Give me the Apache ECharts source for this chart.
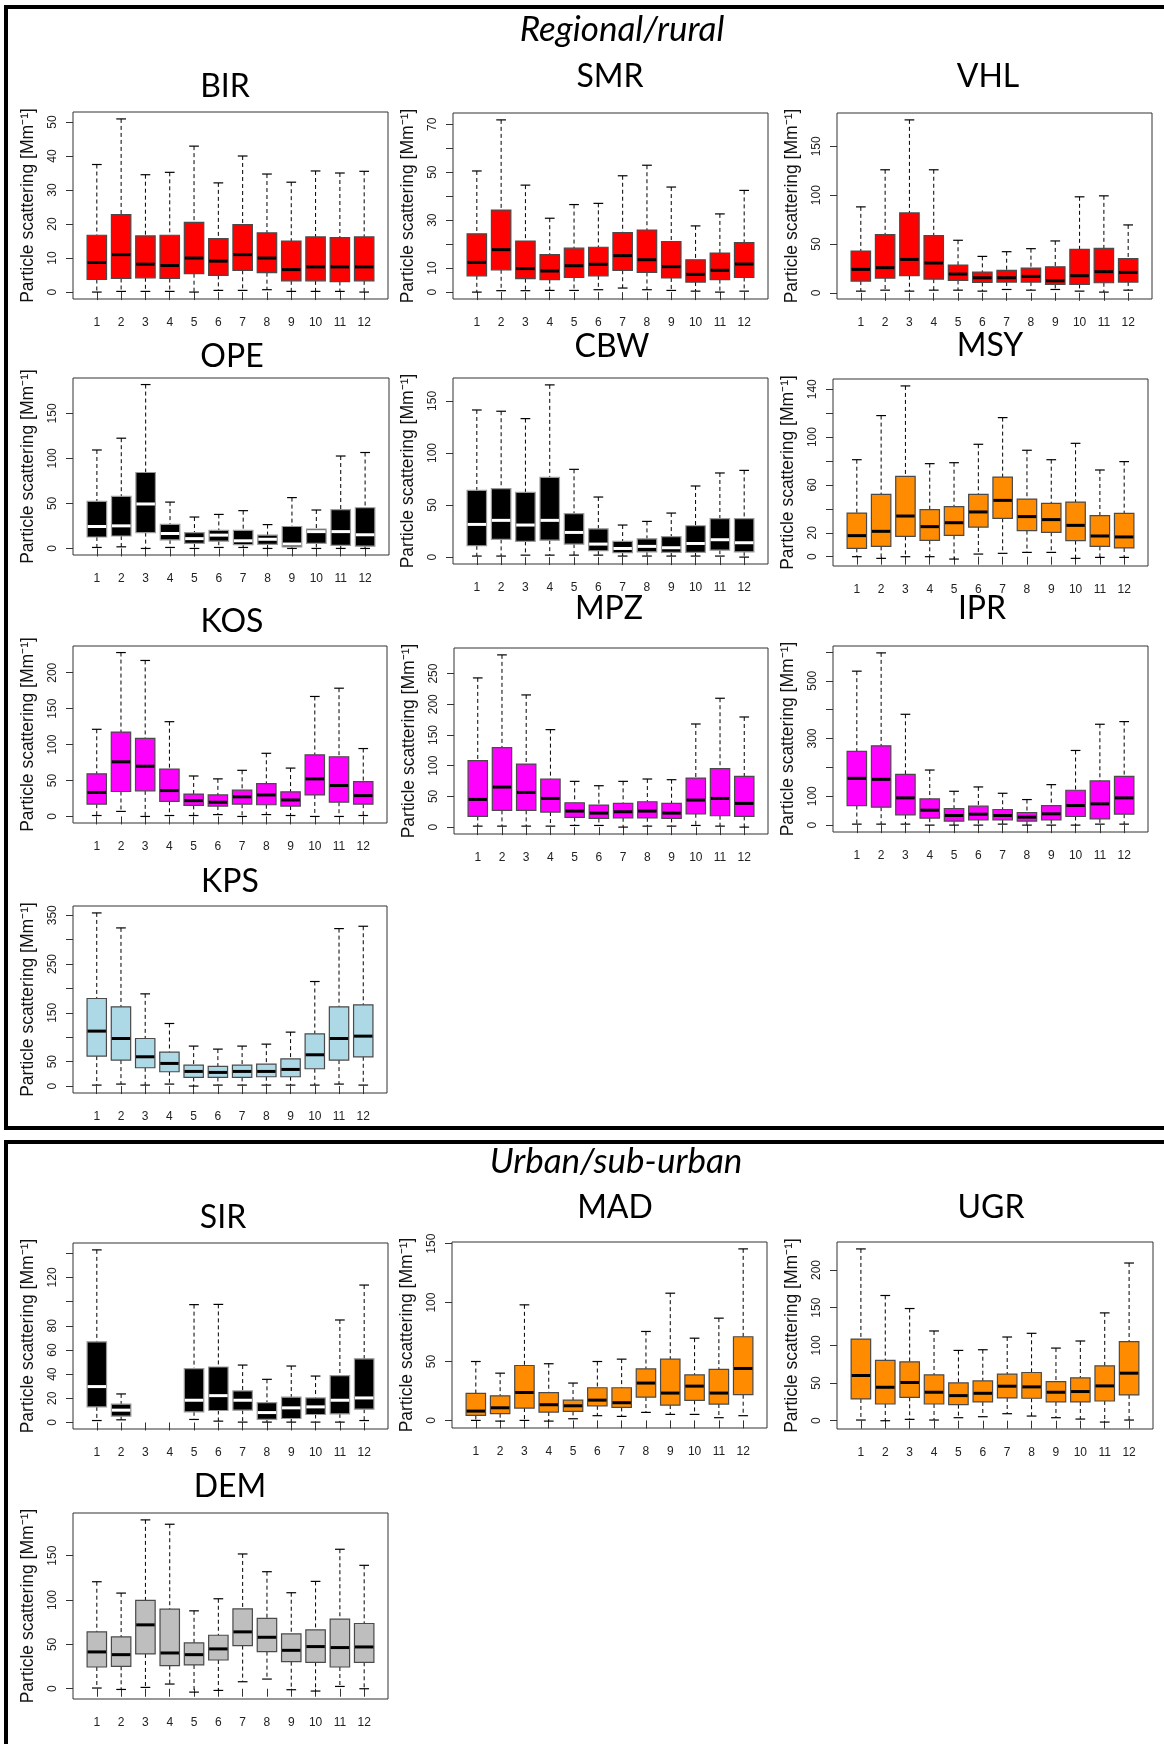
<!DOCTYPE html>
<html><head><meta charset="utf-8">
<script src="https://cdn.jsdelivr.net/npm/echarts@6/dist/echarts.min.js"></script>
<style>html,body{margin:0;padding:0;background:#fff}#c{width:1164px;height:1744px}</style>
</head><body><div id="c"></div>
<script>
// Month categories
const months = [1,2,3,4,5,6,7,8,9,10,11,12];
// Each entry: [lower whisker, Q1, median, Q3, upper whisker] in Mm-1
const BIR = [[0,3.7,8.7,16.7,37.5],[0.2,4.0,11.0,22.8,50.9],[0.2,4.2,8.2,16.5,34.5],[0.2,4.0,7.8,16.7,35.2],[0,5.4,10.0,20.5,42.9],[0.5,4.9,9.1,15.7,32.1],[0.5,6.4,11.0,19.8,40.0],[0.7,5.7,10.0,17.4,34.7],[0.2,3.3,6.6,15.0,32.3],[0.2,3.3,7.4,16.2,35.6],[0.2,3.1,7.4,16.0,35.0],[0,3.3,7.4,16.2,35.5]];
const SMR = [[0,6.8,12.4,24.3,50.5],[0.6,9.3,17.7,34.2,71.8],[0.6,5.6,9.8,21.3,44.6],[0.7,5.2,8.8,15.6,30.8],[0.7,6.1,11.0,18.3,36.5],[1.0,6.8,11.6,18.7,37.0],[1.7,9.1,15.2,24.8,48.5],[1.0,8.2,13.5,25.9,52.9],[0.7,5.9,10.6,21.1,43.8],[0.4,4.2,7.4,13.5,27.6],[0,5.2,9.1,16.3,32.6],[0.4,6.1,11.7,20.6,42.4]];
const VHL = [[1.7,12.0,24.0,42.8,88.0],[2.7,15.1,25.7,59.6,126.0],[1.7,17.5,34.2,81.8,177.1],[2.7,14.0,30.5,58.6,126.0],[2.7,12.7,19.2,28.4,53.8],[1.7,10.6,15.4,21.2,37.3],[3.4,11.0,15.4,22.9,42.1],[2.7,11.0,16.8,25.3,45.2],[3.4,8.6,12.3,26.7,53.1],[1.7,8.6,17.5,44.5,98.3],[0.7,10.3,21.6,45.5,99.3],[2.7,11.0,20.9,34.9,69.5]];
const OPE = [[1.1,12.7,24.4,52.2,109.4],[1.8,13.8,25.1,57.9,122.5],[0,17.6,49.4,84.4,182.1],[1.1,9.5,16.6,26.8,51.5],[0,5.6,10.9,17.6,34.9],[1.1,8.1,14.8,20.1,37.8],[1.1,4.2,8.5,20.1,42.0],[0,4.6,10.2,14.8,26.5],[0,1.8,4.9,24.4,56.5],[0,5.6,18.7,21.5,42.7],[0,3.5,18.7,43.1,102.7],[0,2.5,15.2,45.2,106.6]];
const CBW = [[1.0,10.9,31.4,64.1,141.3],[1.0,17.0,35.3,65.7,140.1],[1.9,15.1,30.8,62.2,133.0],[1.9,16.3,35.3,76.6,165.4],[1.9,12.5,23.7,41.7,84.3],[1.9,6.1,12.5,27.2,57.7],[1.0,4.2,8.3,15.1,30.8],[1.0,5.1,10.3,17.6,34.3],[1.0,4.5,9.0,19.6,42.3],[1.0,4.5,13.1,30.1,68.3],[1.0,6.7,16.7,36.9,80.8],[0,5.1,13.8,36.9,83.3]];
const MSY = [[0,7.0,17.6,36.5,81.1],[-1.4,8.6,21.2,52.1,118.0],[0,17.0,34.0,67.2,142.8],[0,13.7,25.1,39.3,77.8],[-2.0,17.8,28.4,41.8,78.6],[2.2,24.8,37.4,52.1,94.0],[2.8,32.1,47.1,66.6,116.3],[3.6,21.8,33.5,48.2,89.0],[3.6,20.4,31.0,44.6,81.1],[-1.4,13.4,26.2,45.7,94.8],[-0.6,8.6,17.3,34.3,72.5],[-0.6,7.3,16.5,36.3,79.5]];
const KOS = [[1.3,17.1,33.4,59.3,121.3],[7.0,34.7,76.0,117.4,228.1],[0,35.6,69.9,108.6,217.1],[1.3,21.1,36.0,65.9,131.9],[1.3,15.4,22.0,31.2,56.3],[2.6,14.5,19.8,29.9,52.3],[0,17.1,27.3,36.5,64.2],[2.6,16.3,29.9,45.7,87.9],[1.3,14.5,22.9,34.3,67.3],[0,29.9,52.3,85.7,167.0],[0,19.8,43.1,83.1,178.5],[1.3,17.1,29.0,48.4,94.5]];
const MPZ = [[1.6,17.4,45.1,108.2,242.9],[1.6,27.2,65.2,129.3,280.4],[1.6,27.2,56.5,102.7,215.2],[1.6,24.5,46.7,78.3,158.7],[2.7,15.8,26.1,39.7,74.5],[2.7,14.1,22.8,35.9,67.4],[0,15.2,25.0,38.6,74.5],[1.6,15.2,26.1,41.3,78.3],[1.6,14.1,22.8,38.6,77.2],[2.7,21.7,44.0,79.9,167.9],[1.6,18.5,46.7,95.1,209.8],[0,17.4,38.6,82.6,179.3]];
const IPR = [[3.4,67.8,162.1,255.2,533.3],[3.4,62.1,158.6,274.7,596.6],[3.4,35.6,94.3,175.9,383.9],[0,24.1,51.7,90.8,190.8],[0,13.8,33.3,57.5,117.2],[0,18.4,37.9,65.5,132.2],[3.4,18.4,33.3,54.0,110.3],[0,13.8,27.6,43.7,88.5],[0,18.4,39.1,67.8,140.2],[0,29.9,67.8,120.7,258.6],[3.4,21.8,73.6,152.9,349.4],[3.4,37.9,94.3,169.0,358.6]];
const KPS = [[2.0,61.4,112.6,179.4,354.7],[4.1,53.2,97.5,162.3,324.0],[2.0,37.5,60.0,97.5,188.9],[4.1,29.3,46.4,69.6,128.2],[0,17.7,30.0,43.0,81.9],[2.0,17.7,28.0,40.2,75.7],[2.0,17.7,30.0,43.0,81.9],[2.0,19.1,30.0,45.0,85.9],[2.0,19.1,34.1,55.9,110.5],[2.0,35.5,64.1,107.1,214.2],[4.1,53.2,97.5,162.3,322.6],[2.0,60.0,102.3,166.4,327.4]];
const SIR = [[1.6,12.9,29.7,66.7,142.8],[2.2,5.2,10.2,15.1,23.6],null,null,[2.5,8.8,18.4,44.5,97.5],[1.1,9.9,22.2,45.9,97.7],[0.3,10.2,18.4,26.1,47.5],[0.3,2.5,8.2,16.5,35.7],[0.3,3.3,12.1,20.9,46.7],[0.3,6.6,12.9,20.3,38.4],[0.3,7.1,18.4,38.7,84.8],[1.6,11.0,20.3,52.7,113.7]];
const MAD = [[0,4.2,7.9,22.9,50.0],[-0.6,5.7,10.7,20.9,40.1],[0,10.5,23.7,46.6,98.1],[-0.6,7.1,13.3,23.5,48.1],[1.4,7.6,12.4,17.2,31.7],[4.0,12.4,17.2,27.7,50.0],[3.4,11.0,15.0,27.7,52.0],[6.8,19.8,31.7,43.8,75.5],[5.1,13.0,23.2,52.0,108.0],[5.1,17.0,29.1,38.7,69.8],[2.3,13.9,23.2,43.3,86.8],[4.0,21.8,44.1,71.0,145.6]];
const UGR = [[0.9,28.9,60.0,108.4,228.0],[0,22.2,44.4,80.0,166.2],[1.8,31.1,50.7,78.2,148.9],[0.9,22.2,37.8,60.9,119.1],[4.0,21.3,33.3,50.2,93.3],[5.3,24.9,36.4,52.9,94.2],[9.3,30.2,45.8,61.8,111.1],[6.2,29.8,44.9,64.0,116.0],[4.0,24.9,37.8,52.0,96.4],[2.2,24.9,38.7,56.9,105.8],[-1.8,26.2,46.2,72.9,143.1],[0.9,34.2,63.1,104.9,209.3]];
const DEM = [[0.8,24.5,41.5,64.1,120.6],[-0.8,25.3,38.4,58.4,107.8],[1.5,39.2,72.0,99.5,190.3],[5.3,26.0,40.3,89.7,185.4],[-3.8,26.8,38.4,51.6,87.8],[-1.9,32.4,44.9,60.3,101.4],[7.9,48.6,64.1,90.1,151.9],[10.9,41.8,58.0,79.2,131.9],[-1.1,30.5,43.3,61.8,108.2],[-2.6,29.8,47.5,66.3,121.0],[2.6,24.5,46.4,78.4,157.2],[0,29.8,47.1,73.5,139.1]];

// y tick values and labelled ticks per station
const BIR_ticks = [0,10,20,30,40,50], BIR_labels = [0,10,20,30,40,50];
const SMR_ticks = [0,10,20,30,40,50,60,70], SMR_labels = [0,10,30,50,70];
const VHL_ticks = [0,50,100,150], VHL_labels = [0,50,100,150];
const OPE_ticks = [0,50,100,150], OPE_labels = [0,50,100,150];
const CBW_ticks = [0,50,100,150], CBW_labels = [0,50,100,150];
const MSY_ticks = [0,20,40,60,80,100,120,140], MSY_labels = [0,20,60,100,140];
const KOS_ticks = [0,50,100,150,200], KOS_labels = [0,50,100,150,200];
const MPZ_ticks = [0,50,100,150,200,250], MPZ_labels = [0,50,100,150,200,250];
const IPR_ticks = [0,100,200,300,400,500,600], IPR_labels = [0,100,300,500];
const KPS_ticks = [0,50,100,150,200,250,300,350], KPS_labels = [0,50,150,250,350];
const SIR_ticks = [0,20,40,60,80,100,120,140], SIR_labels = [0,20,40,60,80,120];
const MAD_ticks = [0,50,100,150], MAD_labels = [0,50,100,150];
const UGR_ticks = [0,50,100,150,200], UGR_labels = [0,50,100,150,200];
const DEM_ticks = [0,50,100,150], DEM_labels = [0,50,100,150];

const RED='#FF0000', BLACK='#000000', ORANGE='#FF8C00', MAGENTA='#FF00FF', LBLUE='#ADD8E6', GREY='#BEBEBE';

const panels = [
  {name:'BIR', data:BIR, ticks:BIR_ticks, labels:BIR_labels, fill:RED,     box:[73,112,388,299], title:[225,87]},
  {name:'SMR', data:SMR, ticks:SMR_ticks, labels:SMR_labels, fill:RED,     box:[453,113,768,299], title:[610,77]},
  {name:'VHL', data:VHL, ticks:VHL_ticks, labels:VHL_labels, fill:RED,     box:[837,113,1152,299], title:[988,77]},
  {name:'OPE', data:OPE, ticks:OPE_ticks, labels:OPE_labels, fill:BLACK,   box:[73,378,389,555], title:[232,357]},
  {name:'CBW', data:CBW, ticks:CBW_ticks, labels:CBW_labels, fill:BLACK,   box:[453,378,768,564], title:[612,347]},
  {name:'MSY', data:MSY, ticks:MSY_ticks, labels:MSY_labels, fill:ORANGE,  box:[833,379,1148,566], title:[990,346]},
  {name:'KOS', data:KOS, ticks:KOS_ticks, labels:KOS_labels, fill:MAGENTA, box:[73,646,387,823], title:[232,622]},
  {name:'MPZ', data:MPZ, ticks:MPZ_ticks, labels:MPZ_labels, fill:MAGENTA, box:[454,648,768,834], title:[609,609]},
  {name:'IPR', data:IPR, ticks:IPR_ticks, labels:IPR_labels, fill:MAGENTA, box:[833,646,1148,832], title:[982,609]},
  {name:'KPS', data:KPS, ticks:KPS_ticks, labels:KPS_labels, fill:LBLUE,   box:[73,906,387,1093], title:[230,882]},
  {name:'SIR', data:SIR, ticks:SIR_ticks, labels:SIR_labels, fill:BLACK,   box:[73,1243,388,1429], title:[223,1218]},
  {name:'MAD', data:MAD, ticks:MAD_ticks, labels:MAD_labels, fill:ORANGE,  box:[452,1242,767,1428], title:[615,1208]},
  {name:'UGR', data:UGR, ticks:UGR_ticks, labels:UGR_labels, fill:ORANGE,  box:[837,1242,1153,1429], title:[991,1208]},
  {name:'DEM', data:DEM, ticks:DEM_ticks, labels:DEM_labels, fill:GREY,    box:[73,1513,388,1699], title:[230,1487]}
];

const TICK_FONT = 'Liberation Sans';
const TITLE_FONT = 'Lato';

function makeRender(fill){
  const isBlack = fill === BLACK;
  const medColor = isBlack ? '#FFFFFF' : '#000000';
  const border = isBlack ? '#9a9a9a' : '#4a4a4a';
  return function(params, api){
    const x = api.value(0);
    const lw = api.value(1), q1 = api.value(2), md = api.value(3), q3 = api.value(4), uw = api.value(5);
    const hw = 0.4, cw = 0.2;
    const pc = api.coord([x, 0])[0];
    const pl = api.coord([x - hw, 0])[0], pr = api.coord([x + hw, 0])[0];
    const cl = api.coord([x - cw, 0])[0], cr = api.coord([x + cw, 0])[0];
    const yl = api.coord([x, lw])[1], y1 = api.coord([x, q1])[1], ym = api.coord([x, md])[1],
          y3 = api.coord([x, q3])[1], yu = api.coord([x, uw])[1];
    const dash = {stroke:'#000', lineWidth:1, lineDash:[4,3]};
    const solid = {stroke:'#000', lineWidth:1.2};
    return {type:'group', children:[
      {type:'line', shape:{x1:pc, y1:yu, x2:pc, y2:y3}, style:dash},
      {type:'line', shape:{x1:pc, y1:y1, x2:pc, y2:yl}, style:dash},
      {type:'line', shape:{x1:cl, y1:yu, x2:cr, y2:yu}, style:solid},
      {type:'line', shape:{x1:cl, y1:yl, x2:cr, y2:yl}, style:solid},
      {type:'rect', shape:{x:pl, y:y3, width:pr - pl, height:y1 - y3}, style:{fill:fill, stroke:border, lineWidth:1.2}},
      {type:'line', shape:{x1:pl + 0.5, y1:ym, x2:pr - 0.5, y2:ym}, style:{stroke:medColor, lineWidth:3}}
    ]};
  };
}

const grids = [], xAxes = [], yAxes = [], series = [], graphics = [];
panels.forEach((p, i) => {
  const [L, T, R, B] = p.box;
  grids.push({left:L, top:T, width:R - L, height:B - T, show:true, borderColor:'#333', borderWidth:1, backgroundColor:'transparent', containLabel:false});
  xAxes.push({
    type:'value', gridIndex:i, min:0.02, max:12.98,
    axisLine:{show:false}, splitLine:{show:false},
    axisTick:{show:true, length:8, lineStyle:{color:'#333'}, customValues:months},
    axisLabel:{show:true, customValues:months, margin:18, fontSize:12, color:'#222', fontFamily:TICK_FONT}
  });
  const vals = p.data.filter(d => d).flat();
  const lo = Math.min(...vals), hi = Math.max(...vals), ext = (hi - lo) * 0.04;
  yAxes.push({
    type:'value', gridIndex:i, min:lo - ext, max:hi + ext,
    axisLine:{show:false}, splitLine:{show:false},
    axisTick:{show:true, length:7, lineStyle:{color:'#333'}, customValues:p.ticks},
    axisLabel:{show:true, customValues:p.labels, rotate:90, margin:14, fontSize:12, color:'#222', fontFamily:TICK_FONT},
    name:'Particle scattering [Mm\u207B\u00B9]', nameLocation:'middle', nameRotate:90, nameGap:36,
    nameTextStyle:{fontSize:17.5, color:'#111', fontFamily:TICK_FONT}
  });
  const sdata = [];
  p.data.forEach((d, k) => { if (d) sdata.push([months[k], d[0], d[1], d[2], d[3], d[4]]); });
  series.push({
    type:'custom', name:p.name, xAxisIndex:i, yAxisIndex:i,
    renderItem: makeRender(p.fill), data: sdata,
    encode:{x:0, y:[1,2,3,4,5]}, silent:true, animation:false, clip:false
  });
  graphics.push({type:'text', x:p.title[0], y:p.title[1],
    style:{text:p.name, font:'32px ' + TITLE_FONT, fontSize:32, fontFamily:TITLE_FONT, fill:'#000',
      textAlign:'center', textVerticalAlign:'middle', align:'center', verticalAlign:'middle'}});
});

// section frames and headers
graphics.push({type:'rect', shape:{x:6, y:7, width:1200, height:1121}, style:{fill:null, stroke:'#000', lineWidth:4}, z:-1});
graphics.push({type:'rect', shape:{x:6, y:1142, width:1200, height:700}, style:{fill:null, stroke:'#000', lineWidth:4}, z:-1});
graphics.push({type:'text', x:622, y:30, style:{text:'Regional/rural', fontSize:35, fontStyle:'italic', fontFamily:TITLE_FONT, fill:'#000', textAlign:'center', textVerticalAlign:'middle', align:'center', verticalAlign:'middle'}});
graphics.push({type:'text', x:616, y:1162, style:{text:'Urban/sub-urban', fontSize:35, fontStyle:'italic', fontFamily:TITLE_FONT, fill:'#000', textAlign:'center', textVerticalAlign:'middle', align:'center', verticalAlign:'middle'}});

const chart = echarts.init(document.getElementById('c'), null, {renderer:'canvas'});
chart.setOption({
  animation:false,
  backgroundColor:'#ffffff',
  grid:grids, xAxis:xAxes, yAxis:yAxes, series:series, graphic:graphics
});
</script></body></html>
